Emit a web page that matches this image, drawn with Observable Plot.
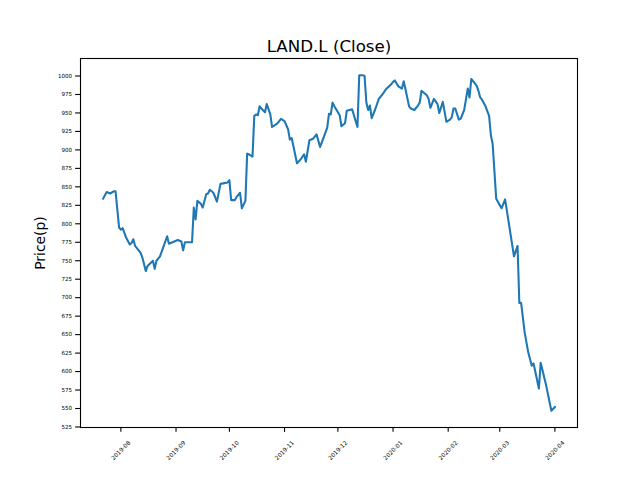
<!DOCTYPE html>
<html>
<head>
<meta charset="utf-8">
<script src="https://cdn.jsdelivr.net/npm/d3@7"></script>
<script src="https://cdn.jsdelivr.net/npm/@observablehq/plot@0.6"></script>
<style>
  html, body { margin: 0; padding: 0; background: #fff; }
  #chart svg { display: block; }
</style>
</head>
<body>
<div id="chart"></div>
<script>
const title = "LAND.L (Close)";
const yLabel = "Price(p)";

const dates = [
  "2019-07-22","2019-07-24","2019-07-26","2019-07-28","2019-07-29","2019-07-31",
  "2019-08-01","2019-08-02","2019-08-04","2019-08-06","2019-08-07","2019-08-08","2019-08-09",
  "2019-08-12","2019-08-13","2019-08-15","2019-08-16","2019-08-19","2019-08-20","2019-08-21",
  "2019-08-23","2019-08-27","2019-08-28",
  "2019-09-02","2019-09-04","2019-09-05","2019-09-06","2019-09-10","2019-09-11","2019-09-12",
  "2019-09-13","2019-09-15","2019-09-16","2019-09-18","2019-09-19","2019-09-20","2019-09-22",
  "2019-09-24","2019-09-26","2019-09-30",
  "2019-10-01","2019-10-02","2019-10-04","2019-10-05","2019-10-07","2019-10-08","2019-10-10",
  "2019-10-11","2019-10-12","2019-10-14","2019-10-15","2019-10-16","2019-10-17","2019-10-18",
  "2019-10-19","2019-10-21","2019-10-22","2019-10-24","2019-10-25","2019-10-28","2019-10-30",
  "2019-11-01","2019-11-03","2019-11-04","2019-11-05","2019-11-06","2019-11-08","2019-11-10",
  "2019-11-12","2019-11-13","2019-11-15","2019-11-17","2019-11-19","2019-11-21","2019-11-23",
  "2019-11-25","2019-11-26","2019-11-27","2019-11-28","2019-11-29",
  "2019-12-02","2019-12-03","2019-12-05","2019-12-06","2019-12-09","2019-12-11","2019-12-12",
  "2019-12-13","2019-12-15","2019-12-16","2019-12-17","2019-12-18","2019-12-19","2019-12-20",
  "2019-12-22","2019-12-24","2019-12-26","2019-12-28","2019-12-31",
  "2020-01-01","2020-01-02","2020-01-04","2020-01-06","2020-01-07","2020-01-08","2020-01-10",
  "2020-01-11","2020-01-13","2020-01-15","2020-01-16","2020-01-17","2020-01-20","2020-01-21",
  "2020-01-22","2020-01-24","2020-01-26","2020-01-27","2020-01-29","2020-01-31",
  "2020-02-02","2020-02-03","2020-02-04","2020-02-05","2020-02-07","2020-02-08","2020-02-10",
  "2020-02-12","2020-02-13","2020-02-14","2020-02-17","2020-02-18","2020-02-19","2020-02-20",
  "2020-02-22","2020-02-24","2020-02-25","2020-02-26","2020-02-28",
  "2020-03-02","2020-03-04","2020-03-09","2020-03-11","2020-03-12","2020-03-13","2020-03-15",
  "2020-03-17","2020-03-19","2020-03-20","2020-03-23","2020-03-24","2020-03-27","2020-03-30",
  "2020-04-01"
];

const closes = [
  834,843,841,844,844,795,
  792,794,781,772,774,779,770,
  761,755,736,743,750,739,750,
  756,783,773,
  778,776,764,775,775,822,806,
  831,827,822,840,841,846,842,
  830,854,856,
  859,832,832,836,842,821,831,
  895,894,891,946,948,947,959,
  956,951,962,948,931,936,942,
  939,928,914,916,905,882,887,
  894,884,913,915,921,904,917,
  930,949,948,964,959,
  947,932,936,953,955,939,931,
  1001,1001,1000,964,954,960,943,
  955,969,975,982,989,
  992,994,986,983,993,982,959,
  956,954,960,964,980,974,969,
  957,969,962,950,965,938,
  941,944,956,956,941,942,954,
  983,971,996,987,980,971,968,
  959,946,920,908,834,
  821,833,756,770,693,693,653,
  626,608,611,577,612,582,547,
  552
];

const yTicks = [525,550,575,600,625,650,675,700,725,750,775,800,825,850,875,900,925,950,975,1000];
const xTickLabels = ["2019-08","2019-09","2019-10","2019-11","2019-12","2020-01","2020-02","2020-03","2020-04"];

const data = dates.map((d, i) => ({date: new Date(d + "T00:00:00Z"), close: closes[i]}));
const xTicks = xTickLabels.map(s => new Date(s + "-01T00:00:00Z"));

// matplotlib-style 5% autoscale margins
const [x0, x1] = d3.extent(data, d => +d.date);
const [y0, y1] = d3.extent(data, d => d.close);
const xPad = (x1 - x0) * 0.05, yPad = (y1 - y0) * 0.05;

const font = "DejaVu Sans, sans-serif";

const chart = Plot.plot({
  width: 640,
  height: 480,
  marginLeft: 80,
  marginRight: 63,
  marginTop: 58,
  marginBottom: 53,
  style: {fontFamily: font, background: "#fff", color: "#000"},
  x: {type: "utc", domain: [new Date(x0 - xPad), new Date(x1 + xPad)]},
  y: {domain: [y0 - yPad, y1 + yPad]},
  marks: [
    Plot.line(data, {x: "date", y: "close", stroke: "#1f77b4", strokeWidth: 2.08, strokeLinejoin: "round", strokeLinecap: "square"}),
    Plot.frame({stroke: "#000", strokeWidth: 1.1}),
    Plot.axisY({ticks: yTicks, tickSize: 4.86, tickPadding: 3.5, fontSize: 5.6, label: null, tickFormat: d => String(d), strokeWidth: 1.1}),
    Plot.axisX({ticks: xTicks, tickSize: 4.86, tickFormat: () => "", label: null, strokeWidth: 1.1}),
    Plot.text(xTicks, {x: d => d, text: (d, i) => xTickLabels[i], frameAnchor: "bottom", dy: 23, rotate: -45, textAnchor: "middle", lineAnchor: "middle", fontSize: 5.8, fill: "#000"}),
    Plot.text([title], {frameAnchor: "top", lineAnchor: "bottom", dy: -7, fontSize: 16.67, fill: "#000"}),
    Plot.text([yLabel], {frameAnchor: "left", dx: -40, rotate: -90, textAnchor: "middle", lineAnchor: "middle", fontSize: 13.9, fill: "#000"})
  ]
});

document.getElementById("chart").appendChild(chart);
</script>
</body>
</html>
